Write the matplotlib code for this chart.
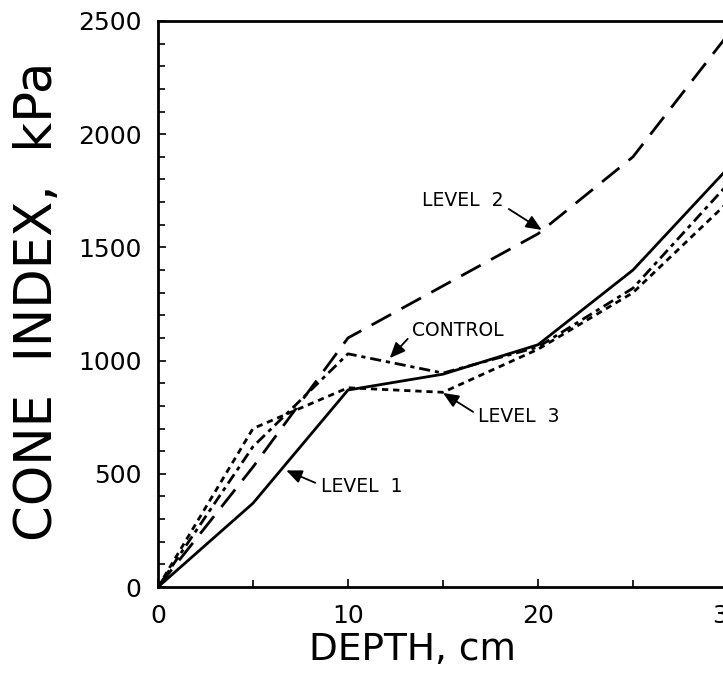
import matplotlib
matplotlib.use("Agg")
import matplotlib.pyplot as plt
from matplotlib.ticker import MultipleLocator

plt.rcParams['font.family'] = ['DejaVu Sans']
plt.rcParams['lines.scale_dashes'] = False

# depth (cm) and cone index (kPa)
depth = [0, 5, 10, 15, 20, 25, 30]
level1 = [0, 370, 870, 940, 1070, 1400, 1850]
level2 = [0, 530, 1100, 1330, 1560, 1900, 2440]
level3 = [0, 700, 880, 860, 1050, 1300, 1700]
control = [0, 620, 1030, 945, 1060, 1320, 1780]

fig = plt.figure(figsize=(7.23, 6.97), dpi=100)
ax = fig.add_axes([0.2185, 0.1578, 0.7884, 0.8121])

lw = 2.0
ax.plot(depth, level1, color='black', lw=lw, solid_joinstyle='miter')
ax.plot(depth, level2, color='black', lw=lw, dashes=(16, 8.5))
ax.plot(depth, level3, color='black', lw=lw, dashes=(4.5, 3.5))
ax.plot(depth, control, color='black', lw=lw, dashes=(8, 3.5, 3, 3.5))

ax.set_xlim(0, 30)
ax.set_ylim(0, 2500)
ax.xaxis.set_major_locator(MultipleLocator(10))
ax.xaxis.set_minor_locator(MultipleLocator(5))
ax.yaxis.set_major_locator(MultipleLocator(500))
ax.yaxis.set_minor_locator(MultipleLocator(100))
ax.tick_params(which='both', direction='in', width=1.2, labelsize=18, pad=12,
               top=False, right=False)
ax.tick_params(which='major', length=6)
ax.tick_params(which='minor', length=5)

for s in ['left', 'bottom', 'top']:
    ax.spines[s].set_linewidth(2)
ax.spines['right'].set_visible(False)

ax.set_xlabel('DEPTH, cm', fontsize=27, va='center')
ax.xaxis.set_label_coords(0.446, -0.112)
ax.set_ylabel('CONE  INDEX,  kPa', fontsize=37, va='center')
ax.yaxis.set_label_coords(-0.21, 0.505)

arrow = dict(arrowstyle='-|>,head_length=0.7,head_width=0.3', color='black',
             lw=1.3, shrinkA=2, shrinkB=0)
txt = dict(fontsize=13.5, ha='center', va='center')

ax.annotate('LEVEL  2', xy=(20.2, 1577), xytext=(16.05, 1709),
            arrowprops=dict(arrow, relpos=(1, 0.2)), **txt)
ax.annotate('CONTROL', xy=(12.2, 1011), xytext=(15.8, 1135),
            arrowprops=dict(arrow, relpos=(0, 0.3)), **txt)
ax.annotate('LEVEL  3', xy=(15.0, 857), xytext=(19.0, 751),
            arrowprops=dict(arrow, relpos=(0, 0.6)), **txt)
ax.annotate('LEVEL  1', xy=(6.75, 515), xytext=(10.7, 442),
            arrowprops=dict(arrow, relpos=(0, 0.6)), **txt)

fig.savefig('out.png', dpi=100)
